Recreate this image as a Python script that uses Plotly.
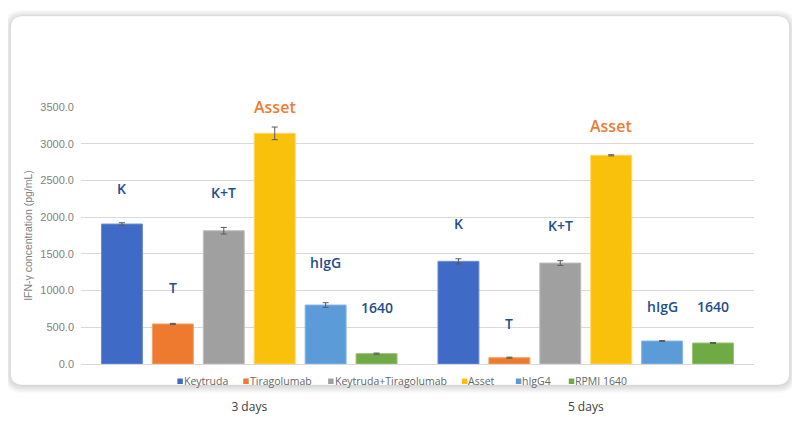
import plotly.graph_objects as go

# ---- data ----
categories = ["3 days", "5 days"]
series_names = ["Keytruda", "Tiragolumab", "Keytruda+Tiragolumab", "Asset", "hIgG4", "RPMI 1640"]
keytruda = [1906, 1398]
tiragolumab = [545, 86]
keytruda_tiragolumab = [1815, 1375]
asset = [3141, 2842]
higg4 = [803, 313]
rpmi1640 = [141, 286]
err_keytruda = [18, 35]
err_tiragolumab = [8, 8]
err_keytruda_tiragolumab = [45, 32]
err_asset = [86, 8]
err_higg4 = [32, 6]
err_rpmi1640 = [8, 6]
bar_labels = ["K", "T", "K+T", "Asset", "hIgG", "1640"]
y_ticks = [0, 500, 1000, 1500, 2000, 2500, 3000, 3500]

values = [keytruda, tiragolumab, keytruda_tiragolumab, asset, higg4, rpmi1640]
errors = [err_keytruda, err_tiragolumab, err_keytruda_tiragolumab, err_asset, err_higg4, err_rpmi1640]

# ---- style ----
colors = ["#3F6BC6", "#EE7A30", "#A0A0A0", "#F9C00C", "#5A9BD8", "#6FAA45"]
edge = ["#6A8CD6", "#F3A06A", "#BDBDBD", "#FCD565", "#86B6E3", "#95C474"]
label_colors = ["#1F4E8C", "#1F4E8C", "#1F4E8C", "#ED7D31", "#1F4E8C", "#1F4E8C"]
label_sizes = [14, 14, 14, 16, 14, 14]
# pixel gap of each label above its bar top, [series][category]
label_shift = [[36, 38], [36, 34], [38, 38], [26, 29], [43, 35], [46, 37]]
legend_left_px = [177, 243, 328, 462, 516, 569]   # layout positions of legend items (page px)

OFF = 8  # page body margin
W, H = 792, 416
ML, MR, MT, MB = 72.5, 45.5, 99, 60
PW, PH = W - ML - MR, H - MT - MB
BARGAP, GROUPGAP = 0.092, 0.196


def px_x(p):
    return (p - OFF - ML) / PW


def px_y(p):
    return (H - MB - (p - OFF)) / PH


fig = go.Figure()
for i, name in enumerate(series_names):
    fig.add_trace(go.Bar(
        name=name, x=categories, y=values[i],
        marker=dict(color=colors[i], line=dict(color=edge[i], width=1)),
        error_y=dict(type="data", array=errors[i], color="#595959", thickness=1, width=3),
        showlegend=False,
    ))

# labels above bars
slot = PW / len(categories) * (1 - BARGAP) / len(series_names)
annotations = []
for i, lab in enumerate(bar_labels):
    for j, c in enumerate(categories):
        annotations.append(dict(
            x=c, y=values[i][j], xref="x", yref="y",
            text=lab, showarrow=False, yanchor="middle",
            xshift=(i - (len(series_names) - 1) / 2) * slot,
            yshift=label_shift[i][j],
            font=dict(family="Open Sans", size=label_sizes[i], color=label_colors[i], weight=600),
        ))

# card with shadow
def rounded(x0, y0, x1, y1, r):
    X, Y = px_x, px_y
    return (f"M {X(x0 + r)},{Y(y0)} L {X(x1 - r)},{Y(y0)} Q {X(x1)},{Y(y0)} {X(x1)},{Y(y0 + r)} "
            f"L {X(x1)},{Y(y1 - r)} Q {X(x1)},{Y(y1)} {X(x1 - r)},{Y(y1)} "
            f"L {X(x0 + r)},{Y(y1)} Q {X(x0)},{Y(y1)} {X(x0)},{Y(y1 - r)} "
            f"L {X(x0)},{Y(y0 + r)} Q {X(x0)},{Y(y0)} {X(x0 + r)},{Y(y0)} Z")


shapes = []
for k in range(7, 0, -1):
    shapes.append(dict(type="path", xref="paper", yref="paper", layer="below",
                       path=rounded(10 - k, 16 - k + 1, 790 + k, 385 + k + 1, 12 + k),
                       fillcolor="rgba(0,0,0,0.018)", line=dict(width=0)))
shapes.append(dict(type="path", xref="paper", yref="paper", layer="below",
                   path=rounded(10, 16, 790, 385, 12),
                   fillcolor="white", line=dict(color="rgba(0,0,0,0.05)", width=1)))

# manual legend (small squares + names)
leg_y = 381
for i, name in enumerate(series_names):
    x0 = legend_left_px[i]
    shapes.append(dict(type="rect", xref="paper", yref="paper", layer="above",
                       x0=px_x(x0), x1=px_x(x0 + 5.5), y0=px_y(leg_y + 3), y1=px_y(leg_y - 2.5),
                       fillcolor=colors[i], line=dict(width=0)))
    annotations.append(dict(x=px_x(x0 + 5.5), y=px_y(leg_y), xref="paper", yref="paper",
                            text=name, showarrow=False, xanchor="left", yanchor="middle",
                            xshift=-1,
                            font=dict(family="Open Sans", size=10.5, color="#666666")))

fig.update_layout(
    width=W, height=H,
    margin=dict(l=ML, r=MR, t=MT, b=MB, pad=0, autoexpand=False),
    paper_bgcolor="white", plot_bgcolor="rgba(0,0,0,0)",
    barmode="group", bargap=BARGAP, bargroupgap=GROUPGAP,
    font=dict(family="Liberation Sans", color="#595959"),
    showlegend=False,
    annotations=annotations,
    shapes=shapes,
)
fig.update_xaxes(showgrid=False, showline=True, linecolor="#D9D9D9", linewidth=1,
                 ticks="", ticklabelstandoff=32, automargin=False,
                 tickfont=dict(family="Open Sans", size=12, color="#404040"))
fig.update_yaxes(range=[0, 3500], tickvals=y_ticks, tickformat=".1f",
                 showgrid=True, gridcolor="#D9D9D9", gridwidth=1, zeroline=False,
                 ticks="", showline=False, automargin=False, ticklabelstandoff=6,
                 tickfont=dict(family="Liberation Sans", size=11, color="#7F7F7F"),
                 title=dict(text="IFN-γ concentration (pg/mL)", standoff=5,
                            font=dict(family="Liberation Sans", size=10.5, color="#7F7F7F")))

fig.write_html("out.html")
